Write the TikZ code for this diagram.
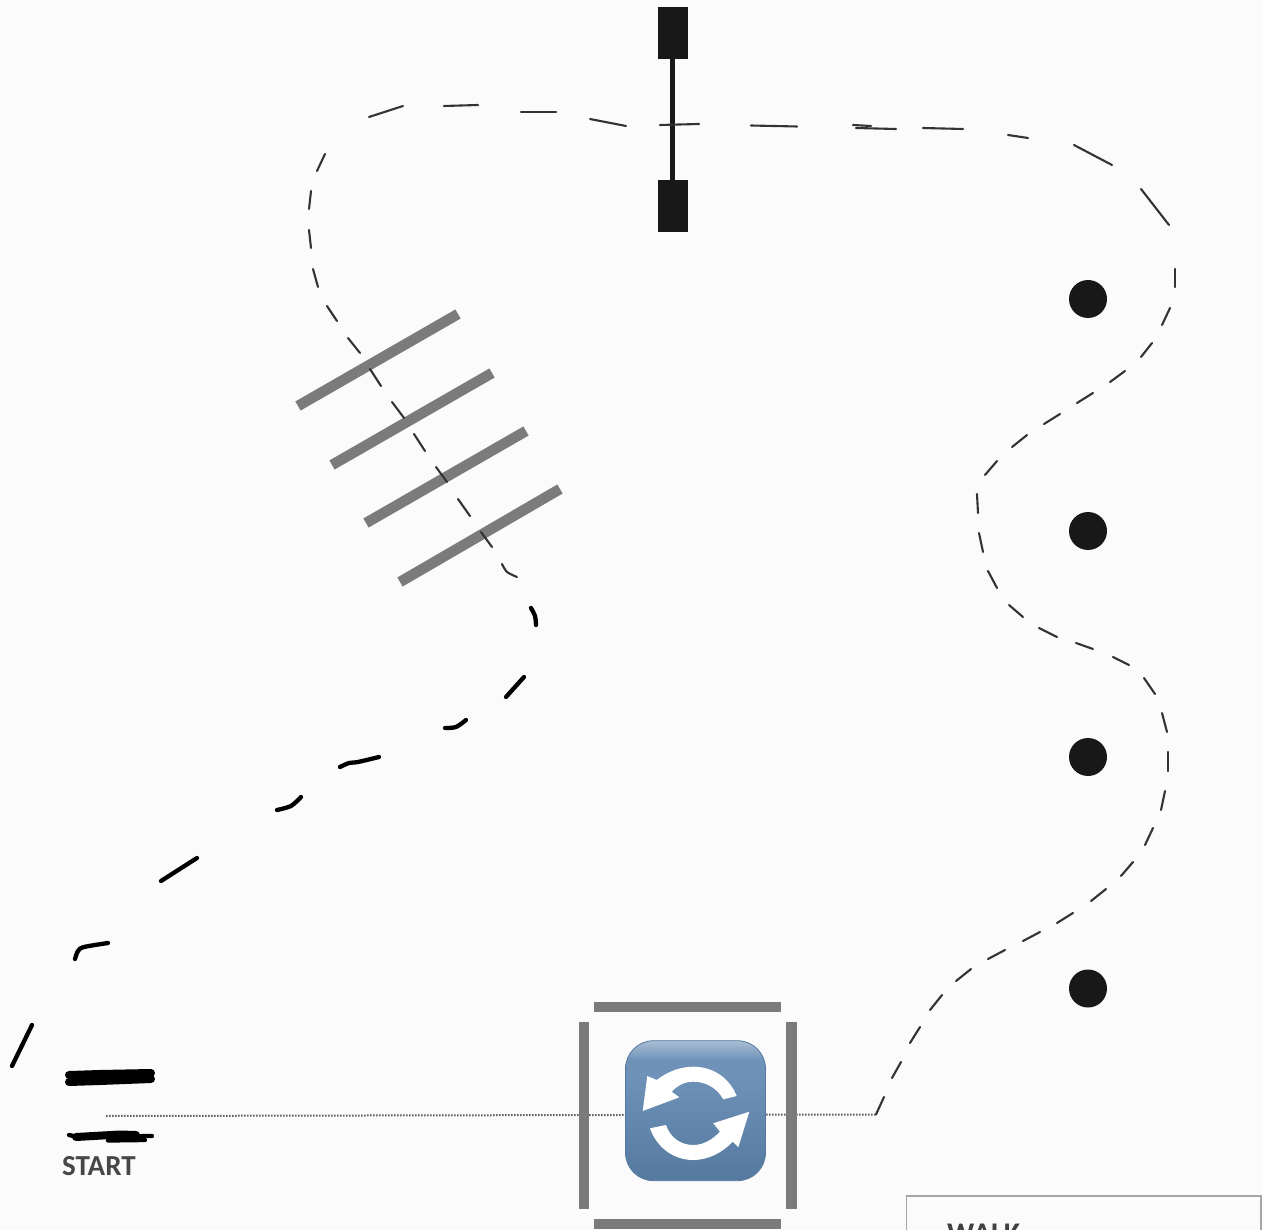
\documentclass[tikz,border=0pt]{standalone}
\usepackage{fontspec}
\setmainfont{Carlito}
\definecolor{paper}{HTML}{FBFBFB}
\definecolor{barGray}{HTML}{7B7B7B}
\definecolor{inkBlack}{HTML}{181818}
\definecolor{tileTop}{HTML}{A9BDD3}
\definecolor{tileMid}{HTML}{6E92B8}
\definecolor{tileBot}{HTML}{567A9F}
\pgfdeclareverticalshading{tileshade}{100bp}{color(0bp)=(tileBot); color(25bp)=(tileBot); color(63bp)=(tileMid); color(68bp)=(tileMid); color(75bp)=(tileTop); color(100bp)=(tileTop)}
\begin{document}
\begin{tikzpicture}[
    x=1pt, y=-1pt,
    wheel/.style={rectangle, fill=inkBlack, inner sep=0pt, minimum width=30pt, minimum height=52pt},
    cone/.style={circle, fill=inkBlack, inner sep=0pt, minimum size=38pt},
    tile/.style={rectangle, rounded corners=28pt, inner sep=0pt, minimum size=140pt, shading=tileshade, draw=tileBot, line width=0.8pt},
    bar/.style={line width=10.5pt, draw=barGray},
    thinseg/.style={line width=2.1pt, draw=black!80, line cap=round},
    inkseg/.style={line width=4.3pt, draw=black, line cap=round, line join=round},
    scribble/.style={line width=8pt, draw=black, line cap=round, line join=round},
    dotline/.style={line width=2pt, draw=black!62, dash pattern=on 1.7pt off 1.3pt},
    label/.style={font=\bfseries\fontsize{29}{29}\selectfont, text=black!72, inner sep=0pt}
]
    % Page
    \fill[paper] (0,0) rectangle (1262,1230);
    \useasboundingbox (0,0) rectangle (1262,1230);
    \clip (0,0) rectangle (1262,1230);

    % Start and corner of the dotted line
    \coordinate (startline) at (106,1116);
    \coordinate (corner) at (876,1114.5);
    \draw[dotline] (startline) -- (corner);

    % Slalom cones
    \node[cone] (cone1) at (1088,299) {};
    \node[cone] (cone2) at (1088,531) {};
    \node[cone] (cone3) at (1088,757) {};
    \node[cone] (cone4) at (1088,988.5) {};

    % Hurdle
    \node[wheel] (wheeltop) at (672.5,33) {};
    \node[wheel] (wheelbot) at (672.5,206) {};
    \draw[line width=4.5pt, draw=inkBlack] (wheeltop) -- (wheelbot);

    % Ladder
    \draw[bar] (458,314) -- (298,406);
    \draw[bar] (492,373) -- (332,465);
    \draw[bar] (526,431) -- (366,523);
    \draw[bar] (560,489) -- (400,582);

    % Square around the turn
    \draw[bar] (594,1007) -- (781,1007);
    \draw[bar] (594,1224) -- (781,1224);
    \draw[bar] (584,1022) -- (584,1209);
    \draw[bar] (791.5,1022) -- (791.5,1209);

    % Turn tile
    \node[tile] (turn) at (695.5,1110.7) {};
    \fill[white] (736.7,1096) .. controls (729,1077) and (712,1066.7) .. (693.3,1066.7)
        .. controls (680,1066.7) and (667,1072) .. (656.7,1080)
        -- (647.3,1076) -- (642.7,1111) -- (679.3,1097.3) -- (671.7,1091.7)
        .. controls (678,1085) and (685,1081.7) .. (693.3,1081.7)
        .. controls (706,1081.7) and (717,1088) .. (723.3,1099.3) -- cycle;
    \fill[white] (650,1128.3) .. controls (657,1148) and (674,1160) .. (693.3,1160)
        .. controls (708,1160) and (722,1153) .. (732.7,1141.7)
        -- (738.3,1147.3) -- (749.3,1111.7) -- (713.3,1123.3) -- (720,1131.7)
        .. controls (712,1140) and (703,1145) .. (693.3,1145)
        .. controls (680,1145) and (670,1137) .. (666,1125) -- cycle;

    % Thin part of the route
    \foreach \xa/\ya/\xb/\yb in {
        876/1114.5/884/1097, 892/1078/901/1062, 910/1043/920/1027, 930/1010/942/995,
        956/981/971/969, 988/959/1005/950, 1023/941/1040/932, 1057/923/1073/913,
        1091/901/1106/889, 1121/876/1133/862, 1145/845/1153/828, 1161/810/1165/791,
        1168/771/1168/752, 1167/732/1162/713, 1155/694/1144/678, 1129/665/1113/657,
        1093/649/1076/643, 1057/637/1039/628, 1023/617/1009/605, 997/588/988/571,
        983/552/979/533, 978/513/977/494, 985/475/997/461, 1012/447/1027/435,
        1044/424/1060/414, 1077/403/1093/393, 1110/382/1125/371, 1141/357/1152/343,
        1162/325/1170/308, 1174.7/287/1174.7/269, 1169/225/1141/189, 1112/165/1074/145,
        1028/138/1008/135, 963/129/923/128, 896/129/856/128, 871/126/853/125,
        797/126.5/751/125.5, 699/124/660/125, 626/126/590/119, 556/112/521/112,
        478/105/444/106, 403/106/369/117, 325/154/317/171, 311/191/309/209,
        309/230/311/248, 313/269/318/287, 327/306/337/321, 348/338/360/353,
        370/369/381/386, 392/402/404/418, 414/434/425/451, 436/467/447/482,
        458/499/470/516, 481/532/492/547}
        \draw[thinseg] (\xa,\ya) -- (\xb,\yb);
    \draw[thinseg] plot[smooth] coordinates {(502,564) (507,572) (517,577)};

    % Inked part of the route
    \draw[inkseg] plot[smooth] coordinates {(531,608) (535,616) (536,625)};
    \draw[inkseg] (524,677) -- (506,697);
    \draw[inkseg] plot[smooth] coordinates {(466,720) (456,727) (445,728)};
    \draw[inkseg] plot[smooth] coordinates {(379,757) (358,762) (349,763) (340,767)};
    \draw[inkseg] plot[smooth] coordinates {(301,797) (291,806) (277,810)};
    \draw[inkseg] (197,858) -- (161,881);
    \draw[inkseg] plot[smooth] coordinates {(108,943) (84,947) (78,951) (75,959)};
    \draw[inkseg] (32,1025) -- (12,1066);

    % Start gate
    \draw[scribble] (69,1075) -- (100,1074) -- (151,1073);
    \draw[scribble] (69,1082) -- (100,1081) -- (151,1079);
    \draw[inkseg] (69,1135) -- (78,1137) -- (152,1136);
    \draw[scribble] (76,1137) -- (120,1134.5) -- (136,1135);
    \draw[inkseg] (108,1140.5) -- (145,1140);
    \node[label, anchor=base west] (start) at (62,1175) {START};

    % Legend box, cut by the page
    \draw[line width=1.3pt, draw=black!35] (906.7,1245) -- (906.7,1196) -- (1261,1196) -- (1261,1245);
    \node[label, font=\bfseries\fontsize{30}{30}\selectfont, text=black!75, anchor=base west] (walk) at (947,1243.5) {WALK};
\end{tikzpicture}
\end{document}
